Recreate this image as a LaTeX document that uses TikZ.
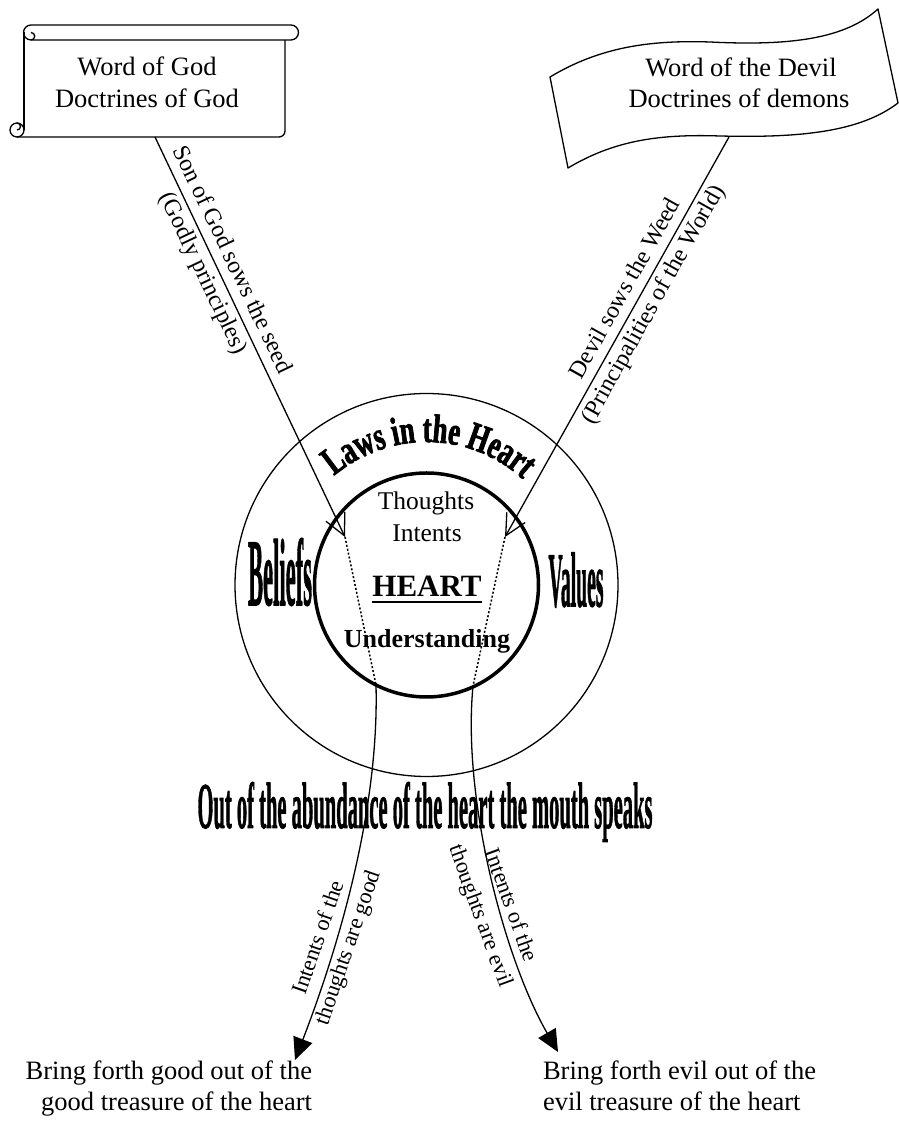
\documentclass[tikz,border=0pt]{standalone}
\usepackage{fontspec}
\setmainfont{Liberation Serif}
\newfontfamily\artfont{Liberation Serif}[BoldFeatures={FakeBold=1.5}]
\newfontfamily\lawsfont{Liberation Serif}[FakeStretch=0.67,BoldFeatures={FakeBold=1.8}]
\usepackage{graphicx}
\usetikzlibrary{arrows.meta,decorations.text}
\newcommand\fsz[2]{\fontsize{#1}{#2}\selectfont}
\tikzset{
  ln/.style={line width=1.3pt},
  txt/.style={inner sep=0pt,outer sep=0pt},
  bigtxt/.style={txt,font=\fsz{26.5}{32}},
  barb/.style={-{Straight Barb[length=21pt,width=21pt,line width=1.3pt]}},
  tri/.style={-{Triangle[length=22pt,width=20pt]}},
  dots/.style={line width=1.5pt,dash pattern=on 2pt off 2pt},
}
\begin{document}
\begin{tikzpicture}[x=1pt,y=1pt,line join=round]
\path[use as bounding box] (0,0) rectangle (899,1122);

% scroll (Word of God)
\draw[ln] (31,1097) -- (291,1097) arc[start angle=90,end angle=-90,radius=7.5] -- (31,1082) arc[start angle=-90,end angle=-270,radius=7.5];
\draw[ln] (31,1082) arc[start angle=270,end angle=450,radius=3.75];
\draw[ln] (24,1089.5) -- (24,992);
\draw[ln] (285,1082) -- (285,991) arc[start angle=0,end angle=-90,radius=6] -- (17,985);
\draw[ln] (17,992) circle[radius=7];
\draw[ln] (17,999) arc[start angle=90,end angle=-90,radius=3.5];

% flag (Word of the Devil)
\draw[ln] (550,1045) .. controls (600,1075) and (650,1082) .. (710,1080)
  .. controls (790,1076) and (845,1083) .. (878,1113) -- (898,1019)
  .. controls (860,990) and (800,984) .. (720,986)
  .. controls (660,988) and (615,982) .. (568,954) -- cycle;

\node[bigtxt,anchor=base] (god1) at (147,1046) {Word of God};
\node[bigtxt,anchor=base] (god2) at (147,1014) {Doctrines of God};
\node[bigtxt,anchor=base] (dev1) at (741,1045) {Word of the Devil};
\node[bigtxt,anchor=base] (dev2) at (739,1014) {Doctrines of demons};

% circles
\node[circle,draw,ln,minimum size=383pt,inner sep=0pt] (outer) at (426.5,537) {};
\node[circle,draw,line width=3.5pt,minimum size=224pt,inner sep=0pt] (inner) at (426.5,537) {};

\node[txt,font=\fsz{25.5}{32},anchor=base] (thoughts) at (426,612) {Thoughts};
\node[txt,font=\fsz{25.5}{32},anchor=base] (intents) at (427,580) {Intents};
\node[txt,font=\fsz{31}{36}\bfseries,anchor=base] (heart) at (427,525) {HEART};
\draw[line width=2.5pt] ([yshift=-5pt]heart.base west) -- ([yshift=-5pt]heart.base east);
\node[txt,font=\fsz{26}{32}\bfseries,anchor=base] (underst) at (427,474) {Understanding};

\path[decorate,decoration={text along path,text align=center,
  text={|\lawsfont\bfseries\fsz{40}{40}|Laws in the Heart}}]
  (426.5,537) ++(131:143) arc[start angle=131,end angle=47,radius=143];

\node[txt] (beliefs) at (280,550) {\resizebox{64pt}{67pt}{\artfont\bfseries Beliefs}};
\node[txt] (values) at (576,542) {\resizebox{55pt}{54pt}{\artfont\bfseries Values}};
\node[txt,anchor=base] (mouth) at (425,294) {\resizebox{455pt}{46pt}{\artfont\bfseries Out of the abundance of the heart the mouth speaks}};

% connectors
\coordinate (godfoot) at (155,985);
\coordinate (devfoot) at (729,985);
\coordinate (tipL) at (345,585);
\coordinate (tipR) at (505,585);
\coordinate (exitL) at (376,437);
\coordinate (exitR) at (473,436);
\coordinate (endL) at (295,62);
\coordinate (endR) at (558,70);

\draw[ln,barb] (godfoot) -- (tipL);
\draw[ln,barb] (devfoot) -- (tipR);
\draw[dots] (tipL) -- (exitL);
\draw[dots] (tipR) -- (exitR);
\draw[ln,tri] (exitL) .. controls (379,322) and (345,192) .. (endL);
\draw[ln,tri] (exitR) .. controls (462,322) and (505,162) .. (endR);

\node[txt,font=\fsz{24}{32},align=center,rotate=-64.6] (sonlbl) at (217,855) {Son of God sows the seed\\(Godly principles)};
\node[txt,font=\fsz{24}{32},align=center,rotate=60.7] (devlbl) at (640,825) {Devil sows the Weed\\(Principalities of the World)};
\node[txt,font=\fsz{22.5}{31},align=center,rotate=71] (goodlbl) at (334,179) {Intents of the\\thoughts are good};
\node[txt,font=\fsz{22.5}{32},align=center,rotate=-70] (evillbl) at (495,211) {Intents of the\\thoughts are evil};

\node[bigtxt,anchor=base east] (good1) at (312,42) {Bring forth good out of the};
\node[bigtxt,anchor=base east] (good2) at (312,12) {good treasure of the heart};
\node[bigtxt,anchor=base west] (evil1) at (543,42) {Bring forth evil out of the};
\node[bigtxt,anchor=base west] (evil2) at (543,12) {evil treasure of the heart};
\end{tikzpicture}
\end{document}
